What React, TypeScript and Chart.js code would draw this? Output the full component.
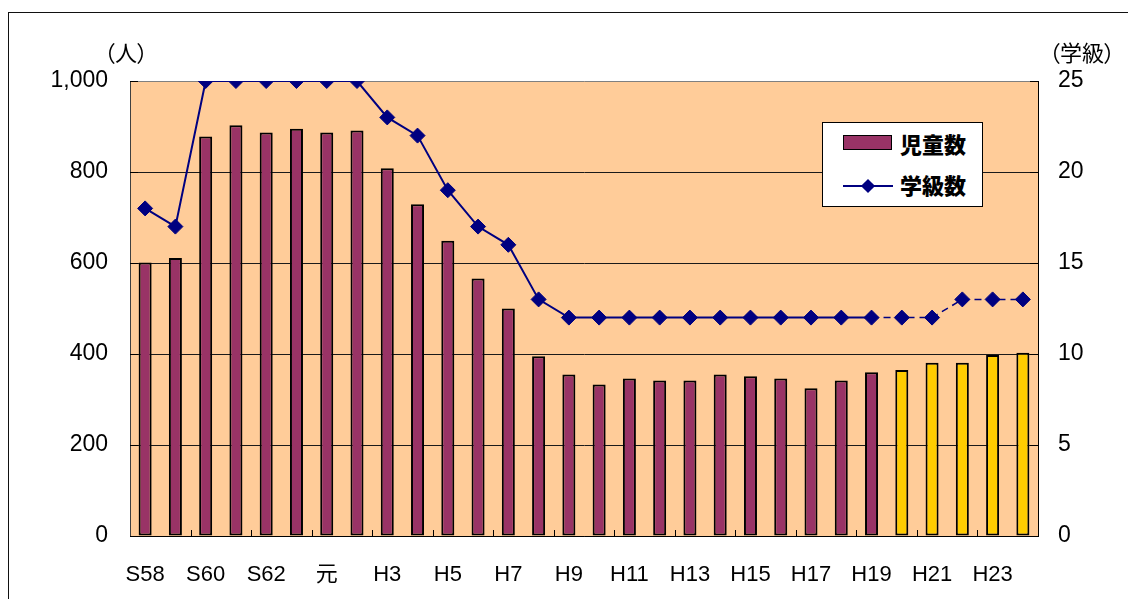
import React, { useEffect, useRef } from 'react';
import { Chart, registerables } from 'chart.js';

Chart.register(...registerables);

const categories = [
  'S58', 'S59', 'S60', 'S61', 'S62', 'S63', '元', 'H2', 'H3', 'H4',
  'H5', 'H6', 'H7', 'H8', 'H9', 'H10', 'H11', 'H12', 'H13', 'H14',
  'H15', 'H16', 'H17', 'H18', 'H19', 'H20', 'H21', 'H22', 'H23', 'H24',
];

// 児童数 (人)
const pupils = [
  601, 611, 878, 903, 887, 895, 887, 891, 808, 729,
  649, 566, 500, 395, 355, 333, 346, 342, 342, 355,
  351, 346, 325, 342, 360, 365, 381, 381, 398, 403,
];

// 学級数 (学級)
const classes = [
  18, 17, 25, 25, 25, 25, 25, 25, 23, 22,
  19, 17, 16, 13, 12, 12, 12, 12, 12, 12,
  12, 12, 12, 12, 12, 12, 12, 13, 13, 13,
];

// index from which bars are projected (yellow) and line is dashed
const projectedBarFrom = 25;
const dashedLineFrom = 24;

const leftTicks = [0, 200, 400, 600, 800, 1000];
const rightTicks = [0, 5, 10, 15, 20, 25];

const BAR_COLOR = '#993366';
const BAR_PROJ_COLOR = '#FFCC00';
const LINE_COLOR = '#000080';
const PLOT_BG = '#FFCC99';
const FONT = "'Liberation Sans', 'Noto Sans CJK JP', sans-serif";
const JP_FONT = "'Noto Sans CJK JP', 'Liberation Sans', sans-serif";

const decorPlugin = {
  id: 'decor',
  beforeDraw(chart: any) {
    const { ctx, chartArea: a } = chart;
    ctx.save();
    ctx.fillStyle = PLOT_BG;
    ctx.fillRect(a.left, a.top, a.right - a.left, a.bottom - a.top);
    ctx.restore();
  },
  beforeDatasetsDraw(chart: any) {
    const { ctx, chartArea: a, scales } = chart;
    const x = scales.x;
    const y = scales.y;
    ctx.save();
    ctx.strokeStyle = '#000';
    ctx.lineWidth = 1;
    // inward tick marks on bottom axis at every second category boundary
    for (let i = 1; i < categories.length - 1; i += 2) {
      const px = Math.round((x.getPixelForValue(i) + x.getPixelForValue(i + 1)) / 2) + 0.5;
      ctx.beginPath();
      ctx.moveTo(px, a.bottom);
      ctx.lineTo(px, a.bottom - 6);
      ctx.stroke();
    }
    // inward tick stubs on left and right axes
    leftTicks.forEach((v) => {
      const py = Math.round(y.getPixelForValue(v)) + 0.5;
      ctx.beginPath();
      ctx.moveTo(a.left, py);
      ctx.lineTo(a.left + 8, py);
      ctx.moveTo(a.right - 8, py);
      ctx.lineTo(a.right, py);
      ctx.stroke();
    });
    ctx.restore();
  },
};

export default function App() {
  const canvasRef = useRef<HTMLCanvasElement | null>(null);

  useEffect(() => {
    const canvas = canvasRef.current;
    if (!canvas) return;
    const chart = new Chart(canvas, {
      type: 'bar',
      data: {
        labels: categories,
        datasets: [
          {
            type: 'line',
            label: '学級数',
            data: classes,
            yAxisID: 'y1',
            order: 0,
            borderColor: LINE_COLOR,
            backgroundColor: LINE_COLOR,
            borderWidth: 2,
            pointStyle: 'rectRot',
            pointRadius: 7.5,
            pointBackgroundColor: LINE_COLOR,
            pointBorderColor: LINE_COLOR,
            pointBorderWidth: 1,
            tension: 0,
            segment: {
              borderDash: (ctx: any) => (ctx.p0DataIndex >= dashedLineFrom ? [7, 5] : undefined),
              borderWidth: (ctx: any) => (ctx.p0DataIndex >= dashedLineFrom ? 1.5 : 2),
            },
          } as any,
          {
            type: 'bar',
            label: '児童数',
            data: pupils,
            yAxisID: 'y',
            order: 1,
            backgroundColor: pupils.map((_, i) => (i >= projectedBarFrom ? BAR_PROJ_COLOR : BAR_COLOR)),
            borderColor: '#000',
            borderWidth: 2,
            borderSkipped: false,
            barPercentage: 0.43,
            categoryPercentage: 1,
          },
        ],
      },
      options: {
        responsive: false,
        animation: false,
        devicePixelRatio: 1,
        layout: { padding: { top: 81, left: 0, right: 0, bottom: 0 } },
        plugins: {
          legend: { display: false },
          tooltip: { enabled: false },
          title: { display: false },
        },
        scales: {
          x: {
            offset: true,
            grid: { display: false },
            border: { display: true, color: '#000', width: 1 },
            ticks: {
              autoSkip: false,
              maxRotation: 0,
              minRotation: 0,
              padding: 18,
              color: '#000',
              font: { family: FONT, size: 22 },
              callback: function (this: any, value: any, index: number) {
                return index % 2 === 0 ? this.getLabelForValue(value) : '';
              },
            },
            afterFit: (s: any) => {
              s.height = 63;
            },
          },
          y: {
            position: 'left',
            min: 0,
            max: 1000,
            afterBuildTicks: (s: any) => {
              s.ticks = leftTicks.map((v) => ({ value: v }));
            },
            grid: {
              color: (c: any) => (c.tick && c.tick.value === 1000 ? '#808080' : '#1a1a1a'),
              lineWidth: 1,
              drawTicks: false,
            },
            border: { display: true, color: '#404040', width: 1 },
            ticks: {
              padding: 22,
              color: '#000',
              font: { family: FONT, size: 23 },
              callback: (v: any) => Number(v).toLocaleString('en-US'),
            },
            afterFit: (s: any) => {
              s.width = 130;
            },
          },
          y1: {
            position: 'right',
            min: 0,
            max: 25,
            afterBuildTicks: (s: any) => {
              s.ticks = rightTicks.map((v) => ({ value: v }));
            },
            grid: { display: false, drawTicks: false },
            border: { display: true, color: '#000', width: 1 },
            ticks: {
              padding: 20,
              color: '#000',
              font: { family: FONT, size: 23 },
            },
            afterFit: (s: any) => {
              s.width = 90;
            },
          },
        },
      },
      plugins: [decorPlugin],
    } as any);
    return () => chart.destroy();
  }, []);

  return (
    <div
      style={{
        position: 'absolute',
        left: 0,
        top: 0,
        width: 1128,
        height: 599,
        overflow: 'hidden',
        background: '#fff',
      }}
    >
      <div
        style={{
          position: 'absolute',
          left: 8,
          top: 12,
          width: 1200,
          height: 700,
          borderLeft: '1.5px solid #111',
          borderTop: '1.5px solid #111',
        }}
      />
      <canvas
        ref={canvasRef}
        width={1128}
        height={599}
        style={{ position: 'absolute', left: 0, top: 0, width: 1128, height: 599 }}
      />
      <div
        style={{
          position: 'absolute',
          left: 104,
          top: 36,
          fontFamily: JP_FONT,
          fontSize: 22,
          lineHeight: '30px',
          fontFeatureSettings: '"palt"',
          color: '#000',
          whiteSpace: 'nowrap',
        }}
      >
        （人）
      </div>
      <div
        style={{
          position: 'absolute',
          left: 1049,
          top: 36,
          fontFamily: JP_FONT,
          fontSize: 22,
          lineHeight: '30px',
          fontFeatureSettings: '"palt"',
          color: '#000',
          whiteSpace: 'nowrap',
        }}
      >
        （学級）
      </div>
      <div
        style={{
          position: 'absolute',
          left: 822,
          top: 122,
          width: 161,
          height: 85,
          background: '#fff',
          border: '1px solid #000',
          boxSizing: 'border-box',
        }}
      >
        <div
          style={{
            position: 'absolute',
            left: 20,
            top: 12,
            width: 49,
            height: 15,
            background: BAR_COLOR,
            border: '1.5px solid #000',
            boxSizing: 'border-box',
          }}
        />
        <div
          style={{
            position: 'absolute',
            left: 77,
            top: 5,
            fontFamily: JP_FONT,
            fontWeight: 900,
            fontSize: 22,
            lineHeight: '30px',
            color: '#000',
            whiteSpace: 'nowrap',
          }}
        >
          児童数
        </div>
        <div
          style={{
            position: 'absolute',
            left: 20,
            top: 62,
            width: 50,
            height: 2,
            background: LINE_COLOR,
          }}
        />
        <div
          style={{
            position: 'absolute',
            left: 40,
            top: 58,
            width: 10,
            height: 10,
            background: LINE_COLOR,
            transform: 'rotate(45deg)',
          }}
        />
        <div
          style={{
            position: 'absolute',
            left: 77,
            top: 46,
            fontFamily: JP_FONT,
            fontWeight: 900,
            fontSize: 22,
            lineHeight: '30px',
            color: '#000',
            whiteSpace: 'nowrap',
          }}
        >
          学級数
        </div>
      </div>
    </div>
  );
}
